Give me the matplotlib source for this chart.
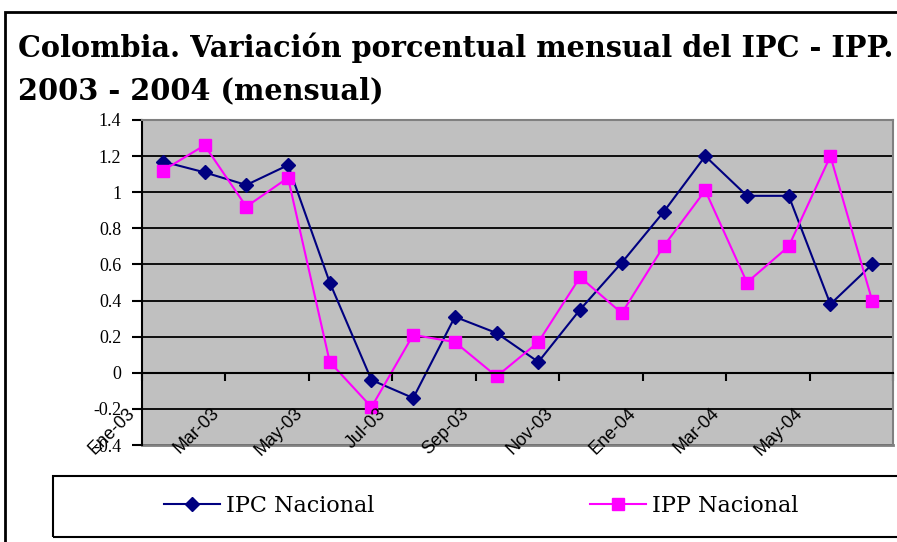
import matplotlib.pyplot as plt
from matplotlib.patches import Rectangle
import numpy as np

months = ['Ene-03', 'Feb-03', 'Mar-03', 'Abr-03', 'May-03', 'Jun-03', 'Jul-03', 'Ago-03', 'Sep-03',
          'Oct-03', 'Nov-03', 'Dic-03', 'Ene-04', 'Feb-04', 'Mar-04', 'Abr-04', 'May-04', 'Jun-04']
ipc = [1.17, 1.11, 1.04, 1.15, 0.50, -0.04, -0.14, 0.31, 0.22,
       0.06, 0.35, 0.61, 0.89, 1.20, 0.98, 0.98, 0.38, 0.60]
ipp = [1.12, 1.26, 0.92, 1.08, 0.06, -0.19, 0.21, 0.17, -0.02,
       0.17, 0.53, 0.33, 0.70, 1.01, 0.50, 0.70, 1.20, 0.40]
yticks = [-0.4, -0.2, 0, 0.2, 0.4, 0.6, 0.8, 1, 1.2, 1.4]
ylabels = ['-0.4', '-0.2', '0', '0.2', '0.4', '0.6', '0.8', '1', '1.2', '1.4']

W, H = 897, 542
fig = plt.figure(figsize=(W / 100, H / 100), dpi=100)
serif = ['Liberation Serif', 'DejaVu Serif']
wide = ['DejaVu Serif']

# outer chart frame (right and bottom edges run off the picture)
fig.patches.append(Rectangle((5 / W, -0.2), 1.2, 1.2 - 12 / H, transform=fig.transFigure,
                             fill=False, ec='black', lw=2))

fig.text(18 / W, 1 - 57 / H, 'Colombia. Variación porcentual mensual del IPC - IPP.',
         family=wide, weight='bold', fontsize=20.7, ha='left', va='baseline')
fig.text(18 / W, 1 - 99 / H, '2003 - 2004 (mensual)',
         family=wide, weight='bold', fontsize=20.7, ha='left', va='baseline')

ax = fig.add_axes([142 / W, 1 - 445 / H, (893 - 142) / W, (445 - 120) / H])
ax.set_facecolor('#C0C0C0')
x = np.arange(len(months))
l1, = ax.plot(x, ipc, color='#000080', marker='D', markersize=7, lw=1.5, label='IPC Nacional')
l2, = ax.plot(x, ipp, color='#FF00FF', marker='s', markersize=8, lw=1.5, label='IPP Nacional')

ax.set_xlim(-0.5, len(months) - 0.5)
ax.set_ylim(-0.4, 1.4)
ax.set_yticks(yticks)
ax.set_yticklabels(ylabels, family=serif, fontsize=13)
ax.yaxis.grid(True, color='black', lw=1.3)
ax.set_axisbelow(True)

for s in ['top', 'right']:
    ax.spines[s].set_color('#808080')
    ax.spines[s].set_linewidth(1.5)
ax.spines['left'].set_color('black')
ax.spines['left'].set_linewidth(1.5)
ax.spines['bottom'].set_position(('data', 0))
ax.spines['bottom'].set_color('black')
ax.spines['bottom'].set_linewidth(1.5)
ax.axhline(-0.4, color='#808080', lw=2, clip_on=False)

ax.set_xticks(np.arange(-0.5, len(months), 2))
ax.set_xticklabels([])
ax.tick_params(axis='x', direction='out', length=6, width=1.5)
ax.tick_params(axis='y', direction='out', length=7, width=1.5, pad=8)

trans = ax.get_xaxis_transform()
for i in range(0, len(months) - 1, 2):
    ax.text(i - 0.72, 0.105, months[i], transform=trans, rotation=45, rotation_mode='anchor',
            ha='right', va='center', fontsize=13, family=['Liberation Sans Narrow', 'Liberation Sans'])

# legend box
fig.patches.append(Rectangle((53 / W, 1 - 537 / H), 1.2, (537 - 476) / H, transform=fig.transFigure,
                             fill=False, ec='black', lw=1.5))
fig.legend(handles=[l1, l2], loc='center left', bbox_to_anchor=(144 / W, 1 - 506 / H), ncol=2,
           frameon=False, prop={'family': wide, 'size': 16}, handlelength=2.5,
           columnspacing=9.7, handletextpad=0.3)

fig.savefig('out.png', dpi=100)
